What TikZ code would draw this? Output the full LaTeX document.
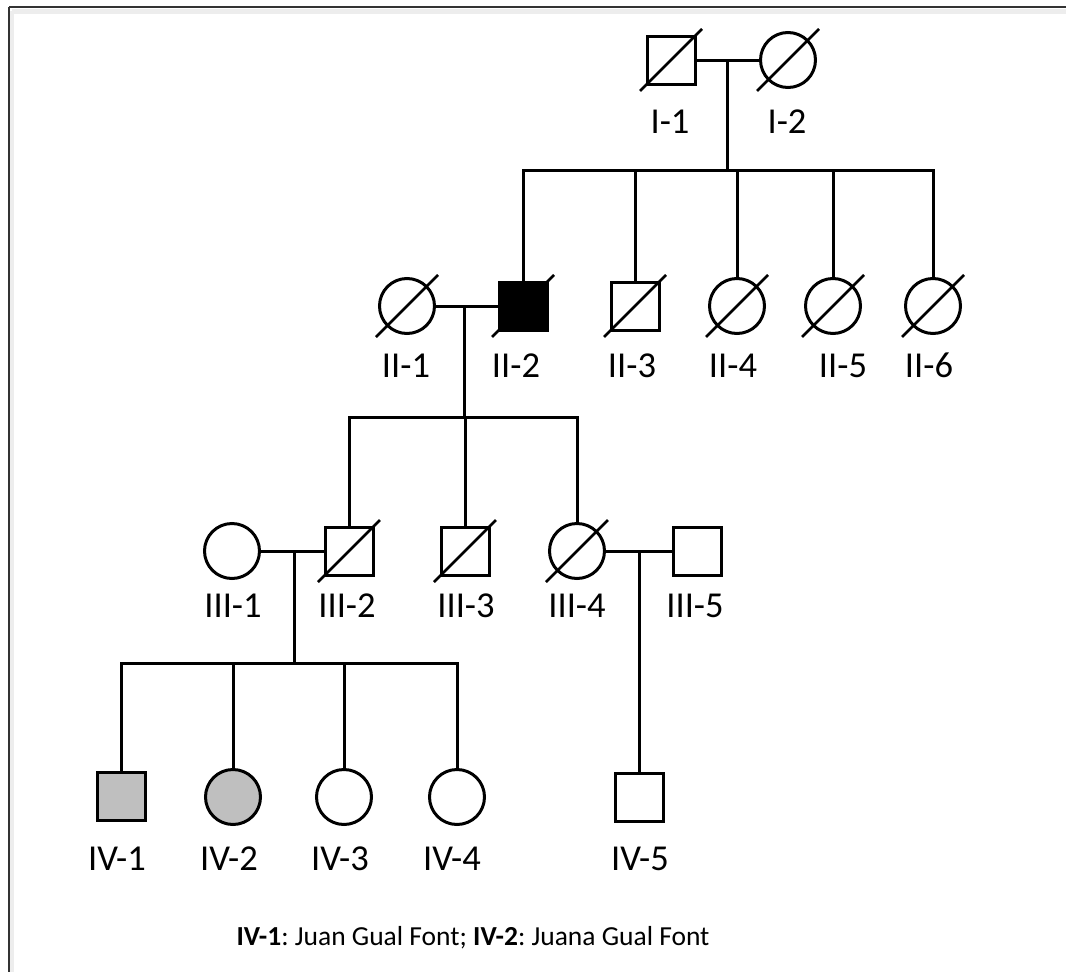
\documentclass[tikz,border=0pt]{standalone}
\usepackage{fontspec}
\setmainfont{Carlito}
\usetikzlibrary{calc}
\frenchspacing

\tikzset{
  person/.style={draw=black, line width=3pt, inner sep=0pt, fill=white},
  male/.style={person, rectangle, minimum size=48pt},
  female/.style={person, circle, minimum size=55pt},
  affected/.style={fill=black},
  carrier/.style={fill=black!25},
  link/.style={line width=3pt, line cap=rect},
  idlabel/.style={anchor=base, inner sep=0pt, font=\fontsize{36.5}{40}\selectfont},
  frameline/.style={line width=2.5pt, draw=black!80},
}
% deceased mark: a slash through the symbol, lower left to upper right
\newcommand{\deceased}[1]{%
  \draw[line width=2.6pt] ([shift={(-31pt,-31pt)}]#1.center) -- ([shift={(31pt,31pt)}]#1.center);}

\begin{document}
\begin{tikzpicture}[x=1pt, y=-1pt]
  \useasboundingbox (0,0) rectangle (1066,972);
  \fill[white] (0,0) rectangle (1066,972);

  % page frame (top and left edges with a soft shadow)
  \draw[line width=5pt, black!7] (12,11) -- (1066,11);
  \draw[line width=4pt, black!7] (12,11) -- (12,972);
  \draw[frameline] (9,7) -- (1066,7);
  \draw[frameline] (9,7) -- (9,972);

  % ---------------- generation I ----------------
  \node[male]   (I1) at (671,60) {};
  \node[female] (I2) at (788,60) {};
  \deceased{I1}
  \deceased{I2}
  \node[idlabel] (lI1) at (670,133) {I-1};
  \node[idlabel] (lI2) at (787,133) {I-2};

  % ---------------- generation II ----------------
  \node[female] (II1) at (407,306) {};
  \node[male, affected] (II2) at (523,306) {};
  \node[male]   (II3) at (635,306) {};
  \node[female] (II4) at (737,306) {};
  \node[female] (II5) at (833,306) {};
  \node[female] (II6) at (933,306) {};
  \foreach \n in {II1,II2,II3,II4,II5,II6} {\deceased{\n}}
  \node[idlabel] (lII1) at (406,377) {II-1};
  \node[idlabel] (lII2) at (516,377) {II-2};
  \node[idlabel] (lII3) at (632,377) {II-3};
  \node[idlabel] (lII4) at (733,377) {II-4};
  \node[idlabel] (lII5) at (843,377) {II-5};
  \node[idlabel] (lII6) at (929,377) {II-6};

  % ---------------- generation III ----------------
  \node[female] (III1) at (232,551) {};
  \node[male]   (III2) at (349,551) {};
  \node[male]   (III3) at (465,551) {};
  \node[female] (III4) at (577,551) {};
  \node[male]   (III5) at (697,551) {};
  \foreach \n in {III2,III3,III4} {\deceased{\n}}
  \node[idlabel] (lIII1) at (233,617) {III-1};
  \node[idlabel] (lIII2) at (347,617) {III-2};
  \node[idlabel] (lIII3) at (466,617) {III-3};
  \node[idlabel] (lIII4) at (577,617) {III-4};
  \node[idlabel] (lIII5) at (695,617) {III-5};

  % ---------------- generation IV ----------------
  \node[male, carrier]   (IV1) at (121,796) {};
  \node[female, carrier] (IV2) at (233,797) {};
  \node[female] (IV3) at (344,797) {};
  \node[female] (IV4) at (457,797) {};
  \node[male]   (IV5) at (639,797) {};
  \node[idlabel] (lIV1) at (117,870) {IV-1};
  \node[idlabel] (lIV2) at (229,870) {IV-2};
  \node[idlabel] (lIV3) at (340,870) {IV-3};
  \node[idlabel] (lIV4) at (452,870) {IV-4};
  \node[idlabel] (lIV5) at (640,870) {IV-5};

  % ---------------- connectors ----------------
  % couple I-1 x I-2 and their children
  \coordinate (mI) at (727,60);
  \coordinate (sI) at (727,170);
  \draw[link] (I1) -- (I2);
  \draw[link] (mI) -- (sI);
  \draw[link] (II2.north |- sI) -- (II6.north |- sI);
  \foreach \n in {II2,II3,II4,II5,II6} {\draw[link] (\n.north |- sI) -- (\n.north);}

  % couple II-1 x II-2 and their children
  \coordinate (mII) at (464,306);
  \coordinate (sII) at (464,417);
  \draw[link] (II1) -- (II2);
  \draw[link] (mII) -- (sII);
  \draw[link] (III2.north |- sII) -- (III4.north |- sII);
  \foreach \n in {III2,III3,III4} {\draw[link] (\n.north |- sII) -- (\n.north);}

  % couple III-1 x III-2 and their children
  \coordinate (mIIIa) at (294,551);
  \coordinate (sIIIa) at (294,663);
  \draw[link] (III1) -- (III2);
  \draw[link] (mIIIa) -- (sIIIa);
  \draw[link] (IV1.north |- sIIIa) -- (IV4.north |- sIIIa);
  \foreach \n in {IV1,IV2,IV3,IV4} {\draw[link] (\n.north |- sIIIa) -- (\n.north);}

  % couple III-4 x III-5 and their son
  \coordinate (mIIIb) at (639,551);
  \draw[link] (III4) -- (III5);
  \draw[link] (mIIIb) -- (IV5.north);

  % caption
  \node[anchor=base, inner sep=0pt, font=\fontsize{27.5}{32}\selectfont] (caption) at (473,945)
    {\textbf{IV-1}: Juan Gual Font; \textbf{IV-2}: Juana Gual Font};
\end{tikzpicture}
\end{document}
